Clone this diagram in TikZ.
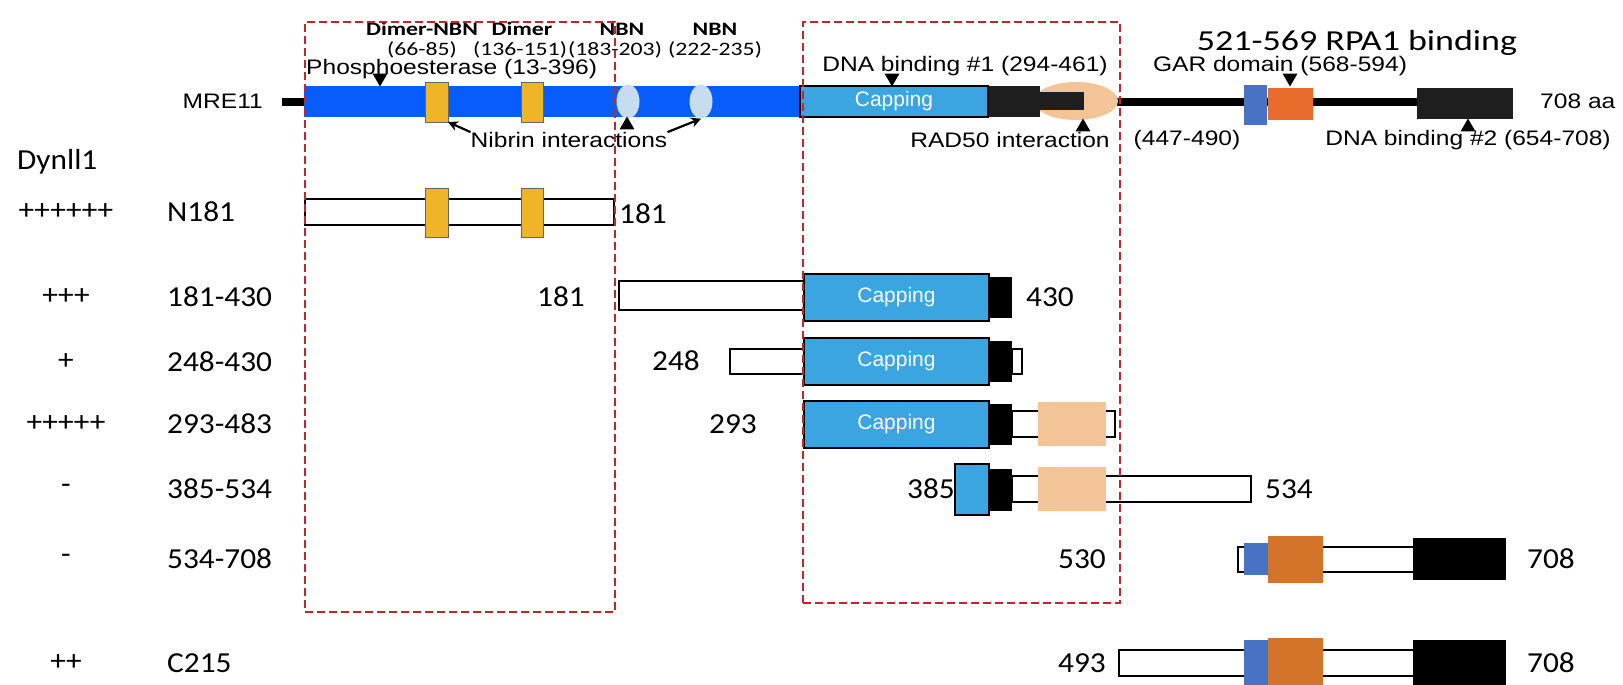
\documentclass[tikz,border=0pt]{standalone}
\usepackage{fontspec}
\usetikzlibrary{shapes.geometric,arrows.meta}
\newfontfamily\rowfam[FakeStretch=1.08]{Carlito}
\newfontfamily\dimfam[FakeStretch=1.25]{Carlito}
\newfontfamily\titlefam[FakeStretch=1.24]{Carlito}
\newfontfamily\notefam[FakeStretch=1.17]{Liberation Sans}
\newfontfamily\capfam{Liberation Sans}
\definecolor{barblue}{RGB}{8,92,250}
\definecolor{capblue}{RGB}{58,165,224}
\definecolor{dimyellow}{RGB}{240,180,40}
\definecolor{nbnblue}{RGB}{200,220,240}
\definecolor{peach}{RGB}{242,196,152}
\definecolor{garorange}{RGB}{232,108,44}
\definecolor{roworange}{RGB}{210,116,42}
\definecolor{garblue}{RGB}{72,114,196}
\definecolor{darkgrey}{RGB}{30,30,30}
\definecolor{zonered}{RGB}{190,40,40}
\newcommand\rowfont{\rowfam\fontsize{29}{34}\selectfont}
\newcommand\notefont{\notefam\fontsize{21}{25}\selectfont}
\newcommand\dimfont{\dimfam\fontsize{19}{23}\selectfont}
\begin{document}
\begin{tikzpicture}[x=1pt, y=-1pt,
  seg/.style={draw, line width=2pt, fill=white, inner sep=0pt, outer sep=0pt, anchor=west},
  capbox/.style={draw, line width=2.5pt, fill=capblue, text=white, font=\capfam\fontsize{21}{25}\selectfont, inner sep=0pt, outer sep=0pt, anchor=west},
  blk/.style={fill=black, inner sep=0pt, outer sep=0pt, anchor=west},
  dimbox/.style={draw=black!60, line width=1pt, fill=dimyellow, inner sep=0pt, outer sep=0pt, anchor=west},
  patch/.style={inner sep=0pt, outer sep=0pt, anchor=west},
  tick/.style={regular polygon, regular polygon sides=3, fill=black, inner sep=0pt, minimum size=17},
  row/.style={font=\rowfont, inner sep=0pt},
  note/.style={font=\notefont, inner sep=0pt},
  zone/.style={draw=zonered, dashed, dash pattern=on 8pt off 4pt, line width=1.8pt, inner sep=0pt, anchor=north west}
]
\useasboundingbox (0,0) rectangle (1623,685);
\node[blk, minimum width=22, minimum height=8] (stub) at (282,102) {};
\node[patch, fill=barblue, minimum width=496, minimum height=31] (mrebar) at (304,101.5) {};
\node[ellipse, fill=nbnblue, minimum width=23, minimum height=34, inner sep=0pt] (nbnA) at (628,101.5) {};
\node[ellipse, fill=nbnblue, minimum width=23, minimum height=34, inner sep=0pt] (nbnB) at (701,101.5) {};
\node[dimbox, minimum width=23, minimum height=39] (dimA) at (425,102.5) {};
\node[dimbox, minimum width=22, minimum height=39] (dimB) at (521,102.5) {};
\node[blk, minimum width=300, minimum height=8] (tail) at (1117,102) {};
\node[ellipse, fill=peach, minimum width=84, minimum height=38, inner sep=0pt] (rad) at (1076,101) {};
\node[blk, fill=darkgrey, minimum width=52, minimum height=31] (radcore) at (988,101.5) {};
\node[blk, fill=darkgrey, minimum width=46, minimum height=18] (radtip) at (1038,101) {};
\node[capbox, minimum width=188, minimum height=31] (captop) at (800,101.5) {Capping};
\node[patch, fill=garblue, minimum width=23, minimum height=40] (garb) at (1244,105) {};
\node[patch, fill=garorange, minimum width=45, minimum height=32] (gar) at (1268,104) {};
\node[blk, fill=darkgrey, minimum width=96, minimum height=31] (dnab) at (1417,103.5) {};
\node[note, anchor=east] (mre) at (263,101) {MRE11};
\node[note, anchor=west] (aa) at (1540,101) {708 aa};
\node[font=\titlefam\fontsize{29}{34}\selectfont, inner sep=0pt] (rpa) at (1357,43) {521-569 RPA1 binding};
\node[font=\dimfont\bfseries, inner sep=0pt] (tdimA) at (422,29) {Dimer-NBN};
\node[font=\dimfont\bfseries, inner sep=0pt] (tdimB) at (522,29) {Dimer};
\node[font=\dimfont\bfseries, inner sep=0pt] (tnbnA) at (622,29) {NBN};
\node[font=\dimfont\bfseries, inner sep=0pt] (tnbnB) at (715,29) {NBN};
\node[font=\dimfont, inner sep=0pt] (rdimA) at (422,50) {(66-85)};
\node[font=\dimfont, inner sep=0pt] (rdimB) at (520,50) {(136-151)};
\node[font=\dimfont, inner sep=0pt] (rnbnA) at (615,50) {(183-203)};
\node[font=\dimfont, inner sep=0pt] (rnbnB) at (715,50) {(222-235)};
\node[note, anchor=west] (phos) at (306,69) {Phosphoesterase (13-396)};
\node[note] (dna1) at (965,66) {DNA binding \#1 (294-461)};
\node[note] (garl) at (1280,66) {GAR domain (568-594)};
\node[note] (radl) at (1010,140) {RAD50 interaction};
\node[note] (radr) at (1187,140) {(447-490)};
\node[note] (dna2) at (1468,140) {DNA binding \#2 (654-708)};
\node[note] (nib) at (569,140) {Nibrin interactions};
\node[tick, shape border rotate=180] (tphos) at (380,78) {};
\node[tick, shape border rotate=180] (tdna1) at (892,78) {};
\node[tick, shape border rotate=180] (tgar) at (1290,78) {};
\node[tick] (tnib) at (627,125) {};
\node[tick] (trad) at (1083,127) {};
\node[tick] (tdna2) at (1468,127) {};
\draw[-{Stealth[length=10pt,width=10pt]}, line width=2.2pt] (nib.north west) -- (dimA.south east);
\draw[-{Stealth[length=10pt,width=10pt]}, line width=2.2pt] (nib.north east) -- (nbnB.south);
\node[row, anchor=west] (dyn) at (17,162) {Dynll1};
\node[row] (sA) at (66,212) {++++++};
\node[row] (sB) at (66,297) {+++};
\node[row] (sC) at (66,362) {+};
\node[row] (sD) at (66,424) {+++++};
\node[row] (sE) at (66,489) {-};
\node[row] (sF) at (66,559) {-};
\node[row] (sG) at (66,663) {++};
\node[row, anchor=west] (nA) at (167,212) {N181};
\node[row, anchor=west] (nB) at (167,297) {181-430};
\node[row, anchor=west] (nC) at (167,362) {248-430};
\node[row, anchor=west] (nD) at (167,424) {293-483};
\node[row, anchor=west] (nE) at (167,489) {385-534};
\node[row, anchor=west] (nF) at (167,559) {534-708};
\node[row, anchor=west] (nG) at (167,663) {C215};
\node[seg, minimum width=309, minimum height=26] (aW) at (305,212) {};
\node[dimbox, minimum width=23, minimum height=49] (aY1) at (425,213) {};
\node[dimbox, minimum width=22, minimum height=49] (aY2) at (521,213) {};
\node[row, anchor=west] (aE) at (619,214) {181};
\node[row, anchor=east] (bS) at (585,297) {181};
\node[seg, minimum width=185, minimum height=29] (bW) at (619,295.5) {};
\node[capbox, minimum width=185, minimum height=47] (bC) at (804,297.5) {Capping};
\node[blk, minimum width=23, minimum height=41] (bK) at (989,297.5) {};
\node[row, anchor=west] (bE) at (1026,297) {430};
\node[row, anchor=east] (cS) at (700,361) {248};
\node[seg, minimum width=74, minimum height=25] (cW) at (730,361) {};
\node[seg, minimum width=10, minimum height=25] (cT) at (1012,361) {};
\node[capbox, minimum width=185, minimum height=47] (cC) at (804,361.5) {Capping};
\node[blk, minimum width=23, minimum height=41] (cK) at (989,361.5) {};
\node[row, anchor=east] (dS) at (757,424) {293};
\node[seg, minimum width=103, minimum height=26] (dW) at (1012,424) {};
\node[patch, fill=peach, minimum width=68, minimum height=44] (dP) at (1038,424) {};
\node[capbox, minimum width=185, minimum height=47] (dC) at (804,424.5) {Capping};
\node[blk, minimum width=23, minimum height=41] (dK) at (989,424.5) {};
\node[row, anchor=east] (eS) at (955,489) {385};
\node[seg, minimum width=239, minimum height=26] (eW) at (1012,489) {};
\node[patch, fill=peach, minimum width=68, minimum height=44] (eP) at (1038,489) {};
\node[capbox, minimum width=34, minimum height=51] (eC) at (955,489.5) {};
\node[blk, minimum width=23, minimum height=42] (eK) at (989,489.5) {};
\node[row, anchor=west] (eE) at (1265,489) {534};
\node[row, anchor=east] (fS) at (1106,559) {530};
\node[seg, minimum width=177, minimum height=25] (fW) at (1238,559) {};
\node[patch, fill=garblue, minimum width=24, minimum height=32] (fB) at (1244,559) {};
\node[patch, fill=roworange, minimum width=55, minimum height=47] (fO) at (1268,559) {};
\node[blk, minimum width=93, minimum height=42] (fK) at (1413,559) {};
\node[row, anchor=west] (fE) at (1527,559) {708};
\node[row, anchor=east] (gS) at (1106,663) {493};
\node[seg, minimum width=296, minimum height=26] (gW) at (1119,663) {};
\node[patch, fill=garblue, minimum width=24, minimum height=46] (gB) at (1244,663) {};
\node[patch, fill=roworange, minimum width=55, minimum height=50] (gO) at (1268,663) {};
\node[blk, minimum width=93, minimum height=46] (gK) at (1413,663) {};
\node[row, anchor=west] (gE) at (1527,663) {708};
\node[zone, minimum width=310, minimum height=590] (zoneN) at (304,21) {};
\node[zone, minimum width=317, minimum height=581] (zoneC) at (802,21) {};
\end{tikzpicture}
\end{document}
